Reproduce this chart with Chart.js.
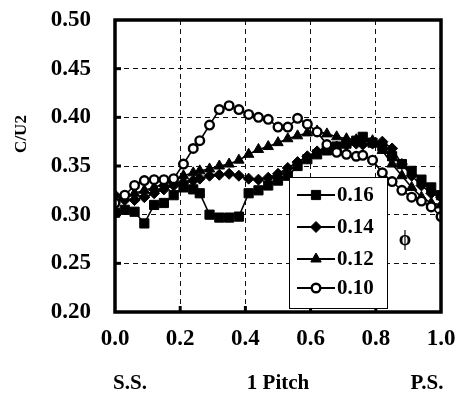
<!DOCTYPE html>
<html>
<head>
<meta charset="utf-8">
<script src="https://cdn.jsdelivr.net/npm/chart.js@4/dist/chart.umd.min.js"></script>
<style>
  html,body{margin:0;padding:0;background:#fff;}
  #wrap{width:461px;height:399px;position:relative;}
</style>
</head>
<body>
<div id="wrap"><canvas id="c" width="461" height="399"></canvas></div>
<script>
// ---- data ----
const pitchX = [0.00,0.03,0.06,0.09,0.12,0.15,0.18,0.21,0.24,0.26,0.29,0.32,0.35,0.38,0.41,0.44,0.47,0.50,0.53,0.56,0.59,0.62,0.65,0.68,0.71,0.74,0.76,0.79,0.82,0.85,0.88,0.91,0.94,0.97,1.00];
const phi016 = [0.302,0.305,0.303,0.291,0.310,0.312,0.320,0.328,0.326,0.322,0.300,0.297,0.297,0.298,0.322,0.325,0.330,0.335,0.340,0.350,0.357,0.362,0.366,0.370,0.373,0.376,0.380,0.374,0.370,0.360,0.352,0.345,0.336,0.328,0.320];
const phi014 = [0.320,0.315,0.315,0.318,0.322,0.326,0.330,0.333,0.335,0.337,0.340,0.341,0.342,0.340,0.337,0.336,0.338,0.342,0.348,0.354,0.360,0.365,0.368,0.370,0.372,0.373,0.372,0.373,0.375,0.368,0.352,0.340,0.330,0.322,0.318];
const phi012 = [0.315,0.318,0.322,0.325,0.328,0.332,0.335,0.340,0.343,0.345,0.347,0.350,0.352,0.356,0.362,0.367,0.370,0.374,0.378,0.381,0.384,0.386,0.383,0.380,0.378,0.377,0.378,0.376,0.366,0.352,0.340,0.328,0.318,0.312,0.310];
const phi010 = [0.312,0.320,0.330,0.335,0.336,0.336,0.337,0.352,0.368,0.376,0.392,0.408,0.412,0.408,0.403,0.400,0.398,0.390,0.390,0.399,0.393,0.385,0.372,0.364,0.362,0.360,0.361,0.356,0.343,0.334,0.325,0.318,0.314,0.308,0.298];
const seriesLabels = ['0.16','0.14','0.12','0.10'];
const yTicks = [0.20,0.25,0.30,0.35,0.40,0.45,0.50];
const xTicks = [0.0,0.2,0.4,0.6,0.8,1.0];
const bottomLabels = ['S.S.','1 Pitch','P.S.'];
const yTitle = 'C/U2';
const phiSymbol = 'ϕ';

const SERIF = '"Liberation Serif","Times New Roman",serif';
const pts = arr => arr.map((v,i)=>({x:pitchX[i], y:v}));

const styles = {
  '0.16': {pointStyle:'rect', pointRadius:6.5, backgroundColor:'#000', bw:1},
  '0.14': {pointStyle:'rectRot', pointRadius:5.5, backgroundColor:'#000', bw:1},
  '0.12': {pointStyle:'triangle', pointRadius:6, backgroundColor:'#000', bw:1},
  '0.10': {pointStyle:'circle', pointRadius:4.3, backgroundColor:'#fff', bw:2.4}
};
function ds(label, arr){
  const s = styles[label];
  return {
    label, data: pts(arr),
    borderColor:'#000', borderWidth:1.6,
    pointStyle:s.pointStyle, pointRadius:s.pointRadius,
    pointBackgroundColor:s.backgroundColor, pointBorderColor:'#000',
    pointBorderWidth: s.bw,
    tension:0, fill:false
  };
}

const frame = {
  id:'frame',
  afterDatasetsDraw(chart){
    const {ctx, chartArea:a, scales} = chart;
    ctx.save();
    // inner tick nubs
    ctx.strokeStyle='#000'; ctx.lineWidth=3;
    yTicks.slice(1,-1).forEach(t=>{
      const y = scales.y.getPixelForValue(t);
      ctx.beginPath(); ctx.moveTo(a.left, y); ctx.lineTo(a.left+6, y); ctx.stroke();
    });
    xTicks.slice(1,-1).forEach(t=>{
      const x = scales.x.getPixelForValue(t);
      ctx.beginPath(); ctx.moveTo(x, a.bottom); ctx.lineTo(x, a.bottom-6); ctx.stroke();
    });
    // legend box
    const bx=289, by=177, bw=98, bh=131;
    ctx.fillStyle='#fff'; ctx.fillRect(bx,by,bw,bh);
    ctx.lineWidth=1; ctx.strokeStyle='#000'; ctx.strokeRect(bx+0.5,by+0.5,bw,bh);
    const rows=[195,227,259,288];
    const dsByLabel = {};
    chart.data.datasets.forEach(d=>dsByLabel[d.label]=d);
    seriesLabels.forEach((lab,i)=>{
      const d = dsByLabel[lab]; const y=rows[i];
      ctx.strokeStyle='#000'; ctx.lineWidth=2;
      ctx.beginPath(); ctx.moveTo(297,y); ctx.lineTo(335,y); ctx.stroke();
      ctx.fillStyle=d.pointBackgroundColor; ctx.strokeStyle='#000'; ctx.lineWidth=d.pointBorderWidth;
      Chart.helpers.drawPoint(ctx,{pointStyle:d.pointStyle, rotation:0, radius:d.pointRadius, borderWidth:d.pointBorderWidth}, 316, y);
      ctx.fillStyle='#000';
      ctx.font='bold 21px '+SERIF; ctx.textAlign='left'; ctx.textBaseline='middle';
      ctx.fillText(lab, 337, y+1);
    });
    // phi symbol
    ctx.font='bold 20px '+SERIF; ctx.textAlign='center'; ctx.textBaseline='middle';
    ctx.fillText(phiSymbol, 405, 240);
    // frame
    ctx.lineWidth=3.5; ctx.strokeStyle='#000';
    ctx.strokeRect(a.left, a.top, a.right-a.left, a.bottom-a.top);
    // bottom labels
    ctx.font='bold 21px '+SERIF; ctx.textBaseline='middle'; ctx.textAlign='center';
    ctx.fillText(bottomLabels[0], 130, 384);
    ctx.fillText(bottomLabels[1], (a.left+a.right)/2, 384);
    ctx.fillText(bottomLabels[2], 427, 384);
    // y title
    ctx.save(); ctx.translate(22,134); ctx.rotate(-Math.PI/2);
    ctx.font='bold 17px '+SERIF; ctx.fillText(yTitle,0,0); ctx.restore();
    ctx.restore();
  }
};

new Chart(document.getElementById('c'), {
  type:'line',
  data:{ datasets:[ ds('0.10',phi010), ds('0.12',phi012), ds('0.14',phi014), ds('0.16',phi016) ] },
  options:{
    responsive:false, animation:false, devicePixelRatio:1,
    layout:{padding:{left:0, top:20, right:20, bottom:0}},
    plugins:{legend:{display:false}, tooltip:{enabled:false}},
    scales:{
      x:{ type:'linear', min:0, max:1,
          afterBuildTicks(s){ s.ticks = xTicks.map(v=>({value:v})); },
          afterFit(s){ s.height = 399-312; s.paddingLeft=0; s.paddingRight=0; },
          grid:{ color(c){ return (c.tick && (c.tick.value===0||c.tick.value===1))?'rgba(0,0,0,0)':'#111'; }, lineWidth:1, drawTicks:false },
          border:{display:false, dash:[5,4]},
          ticks:{ padding:13, color:'#000', font:{family:SERIF, size:23, weight:'bold'}, maxRotation:0,
                  callback:v=>Number(v).toFixed(1) } },
      y:{ min:0.2, max:0.5,
          afterBuildTicks(s){ s.ticks = yTicks.map(v=>({value:v})); },
          afterFit(s){ s.width = 115; s.paddingTop=0; s.paddingBottom=0; },
          grid:{ color(c){ return (c.tick && (Math.abs(c.tick.value-0.2)<1e-6||Math.abs(c.tick.value-0.5)<1e-6))?'rgba(0,0,0,0)':'#111'; }, lineWidth:1, drawTicks:false },
          border:{display:false, dash:[5,4]},
          ticks:{ padding:24, color:'#000', font:{family:SERIF, size:23, weight:'bold'},
                  callback:v=>Number(v).toFixed(2) } }
    }
  },
  plugins:[frame]
});
</script>
</body>
</html>
